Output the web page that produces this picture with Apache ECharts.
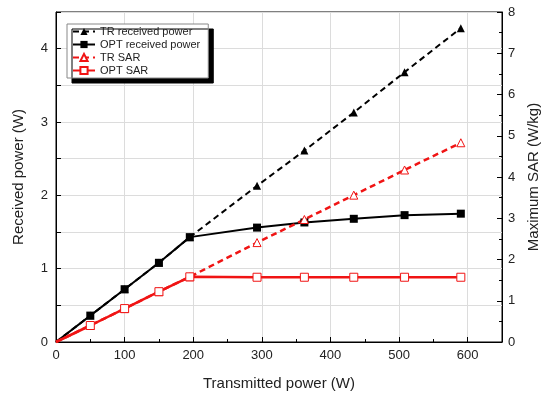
<!DOCTYPE html>
<html>
<head>
<meta charset="utf-8">
<script src="https://cdn.jsdelivr.net/npm/echarts@6/dist/echarts.min.js"></script>
<style>
  html, body { margin: 0; padding: 0; background: #fff; }
  #chart { width: 541px; height: 394px; }
</style>
</head>
<body>
<div id="chart"></div>
<script>
// transmitted power (W)
var txPower = [0, 50, 100, 150, 195, 293, 362, 434, 508, 590];
// received power (W)
var trReceived = [0, 0.36, 0.72, 1.08, 1.43, 2.13, 2.61, 3.13, 3.68, 4.28];
var optReceived = [0, 0.36, 0.72, 1.08, 1.43, 1.56, 1.63, 1.68, 1.73, 1.75];
// maximum SAR (W/kg)
var trSar = [0, 0.40, 0.81, 1.22, 1.58, 2.41, 2.97, 3.56, 4.17, 4.83];
var optSar = [0, 0.40, 0.81, 1.22, 1.58, 1.57, 1.57, 1.57, 1.57, 1.57];

var font = 'Liberation Sans, Arial, sans-serif';
var red = '#f01414';

function pairs(ys) {
    return txPower.map(function (x, i) {
        // no marker at the origin
        if (x === 0) return { value: [x, ys[i]], symbol: 'none' };
        return [x, ys[i]];
    });
}

var option = {
    animation: false,
    backgroundColor: '#fff',
    grid: {
        left: 56, right: 39, top: 12, bottom: 52,
        outerBoundsMode: 'none',
        show: true,
        borderColor: '#000',
        borderWidth: 1
    },
    legend: {
        orient: 'vertical',
        left: 67, top: 24,
        padding: [2, 8, 2, 5],
        itemGap: 2,
        itemWidth: 22,
        itemHeight: 9,
        backgroundColor: '#fff',
        borderColor: '#888',
        borderWidth: 1,
        shadowColor: '#000',
        shadowBlur: 0,
        shadowOffsetX: 5,
        shadowOffsetY: 5,
        textStyle: { fontFamily: font, fontSize: 11, color: '#222' },
        data: ['TR received power', 'OPT received power', 'TR SAR', 'OPT SAR']
    },
    xAxis: {
        type: 'value',
        min: 0, max: 650, interval: 100,
        name: 'Transmitted power (W)',
        nameLocation: 'middle',
        nameGap: 34,
        nameTextStyle: { fontFamily: font, fontSize: 15, color: '#222' },
        axisLine: { lineStyle: { color: '#000', width: 1 } },
        axisTick: { inside: true, length: 5, lineStyle: { color: '#000' } },
        minorTick: { show: true, splitNumber: 2, length: 3, lineStyle: { color: '#000' } },
        axisLabel: {
            fontFamily: font, fontSize: 13, color: '#222', margin: 7,
            formatter: function (v) { return v % 100 === 0 ? v : ''; }
        },
        splitLine: { show: true, lineStyle: { color: '#dcdcdc' } }
    },
    yAxis: [{
        type: 'value',
        min: 0, max: 4.5, interval: 0.5,
        name: 'Received power (W)',
        nameLocation: 'middle',
        nameGap: 30,
        nameTextStyle: { fontFamily: font, fontSize: 15, color: '#222' },
        axisLine: { show: true, lineStyle: { color: '#000', width: 1 } },
        axisTick: { show: true, inside: true, length: 5, lineStyle: { color: '#000' } },
        axisLabel: {
            fontFamily: font, fontSize: 13, color: '#222', margin: 8,
            formatter: function (v) { return v % 1 === 0 ? v : ''; }
        },
        splitLine: { show: true, lineStyle: { color: '#dcdcdc' } }
    }, {
        type: 'value',
        min: 0, max: 8, interval: 1,
        name: 'Maximum SAR (W/kg)',
        nameLocation: 'middle',
        nameGap: 24,
        nameTextStyle: { fontFamily: font, fontSize: 15, color: '#222' },
        axisLine: { show: true, lineStyle: { color: '#000', width: 1 } },
        axisTick: { show: true, inside: true, length: 5, lineStyle: { color: '#000' } },
        minorTick: { show: true, splitNumber: 2, length: 3, lineStyle: { color: '#000' } },
        axisLabel: { fontFamily: font, fontSize: 13, color: '#222', margin: 6 },
        splitLine: { show: false }
    }],
    series: [{
        name: 'TR received power',
        type: 'line',
        yAxisIndex: 0,
        data: pairs(trReceived),
        symbol: 'triangle',
        symbolSize: 8,
        itemStyle: { color: '#000' },
        lineStyle: { color: '#000', width: 2, type: [6, 4] }
    }, {
        name: 'OPT received power',
        type: 'line',
        yAxisIndex: 0,
        data: pairs(optReceived),
        symbol: 'rect',
        symbolSize: 8,
        itemStyle: { color: '#000' },
        lineStyle: { color: '#000', width: 2 }
    }, {
        name: 'TR SAR',
        type: 'line',
        yAxisIndex: 1,
        data: pairs(trSar),
        symbol: 'triangle',
        symbolSize: 8,
        itemStyle: { color: '#fff', borderColor: red, borderWidth: 1 },
        lineStyle: { color: red, width: 2.5, type: [6, 4] }
    }, {
        name: 'OPT SAR',
        type: 'line',
        yAxisIndex: 1,
        data: pairs(optSar),
        symbol: 'rect',
        symbolSize: 8,
        itemStyle: { color: '#fff', borderColor: red, borderWidth: 1 },
        lineStyle: { color: red, width: 2.5 }
    }]
};

var chart = echarts.init(document.getElementById('chart'));
chart.setOption(option);
</script>
</body>
</html>
